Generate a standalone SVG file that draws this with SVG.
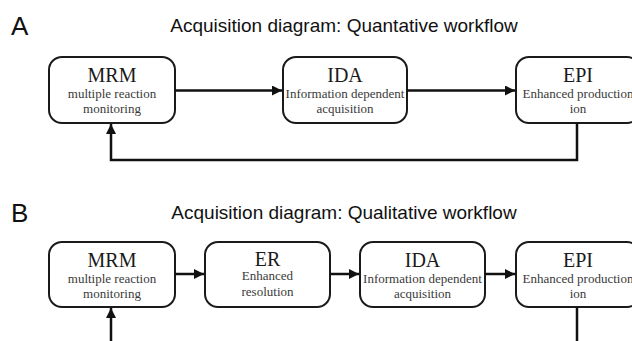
<svg xmlns="http://www.w3.org/2000/svg" width="632" height="341" viewBox="0 0 632 341">
<style>
.box{fill:#fff;stroke:#1a1a1a;stroke-width:2}
.hd{font-family:"Liberation Serif","Times New Roman",serif;font-size:20px;fill:#1a1a1a;text-anchor:middle}
.sub{font-family:"Liberation Serif","Times New Roman",serif;font-size:13px;fill:#3a3a3a;text-anchor:middle}
.lbl{font-family:"Liberation Sans",Arial,sans-serif;font-size:26px;fill:#111}
.ttl{font-family:"Liberation Sans",Arial,sans-serif;font-size:19px;fill:#111;text-anchor:middle}
.cn{fill:none;stroke:#111;stroke-width:2.5}
</style>
<defs>
<marker id="ah" viewBox="0 0 10 10" refX="10" refY="5" markerWidth="4" markerHeight="4" markerUnits="strokeWidth" orient="auto">
<path d="M0,0 L10,5 L0,10 Z" fill="#111"/>
</marker>
</defs>
<text class="lbl" x="11" y="35">A</text>
<text class="ttl" x="344" y="32">Acquisition diagram: Quantative workflow</text>
<text class="lbl" x="11" y="222">B</text>
<text class="ttl" x="344" y="219">Acquisition diagram: Qualitative workflow</text>
<g id="a-mrm"><rect class="box" x="49" y="57" width="126" height="66" rx="13"/><text class="hd" x="112" y="82">MRM</text><text class="sub" x="112" y="97.5">multiple reaction</text><text class="sub" x="112" y="113">monitoring</text></g>
<g id="a-ida"><rect class="box" x="283" y="57" width="124" height="66" rx="13"/><text class="hd" x="345" y="82">IDA</text><text class="sub" x="345" y="97.5">Information dependent</text><text class="sub" x="345" y="113">acquisition</text></g>
<g id="a-epi"><rect class="box" x="516" y="57" width="124" height="66" rx="13"/><text class="hd" x="578" y="82">EPI</text><text class="sub" x="578" y="97.5">Enhanced production</text><text class="sub" x="578" y="113">ion</text></g>
<g id="b-mrm"><rect class="box" x="49" y="242" width="126" height="65" rx="13"/><text class="hd" x="112" y="266.5">MRM</text><text class="sub" x="112" y="282.5">multiple reaction</text><text class="sub" x="112" y="298">monitoring</text></g>
<g id="b-er"><rect class="box" x="205" y="242" width="125" height="65" rx="13"/><text class="hd" x="267.5" y="265.5">ER</text><text class="sub" x="267.5" y="280">Enhanced</text><text class="sub" x="267.5" y="295.5">resolution</text></g>
<g id="b-ida"><rect class="box" x="360" y="242" width="125" height="65" rx="13"/><text class="hd" x="422.5" y="266.5">IDA</text><text class="sub" x="422.5" y="282.5">Information dependent</text><text class="sub" x="422.5" y="298">acquisition</text></g>
<g id="b-epi"><rect class="box" x="516" y="242" width="124" height="65" rx="13"/><text class="hd" x="578" y="266.5">EPI</text><text class="sub" x="578" y="282.5">Enhanced production</text><text class="sub" x="578" y="298">ion</text></g>
<g id="connectors">
<path class="cn" d="M175,90.5 H282" marker-end="url(#ah)"/>
<path class="cn" d="M407,90.5 H515" marker-end="url(#ah)"/>
<path class="cn" d="M577,123 V160 H111 V124" marker-end="url(#ah)"/>
<path class="cn" d="M175,274 H204" marker-end="url(#ah)"/>
<path class="cn" d="M330,274 H359" marker-end="url(#ah)"/>
<path class="cn" d="M485,274 H515" marker-end="url(#ah)"/>
<path class="cn" d="M111,341 V308" marker-end="url(#ah)"/>
<path class="cn" d="M577,307 V341"/>
</g>
</svg>
